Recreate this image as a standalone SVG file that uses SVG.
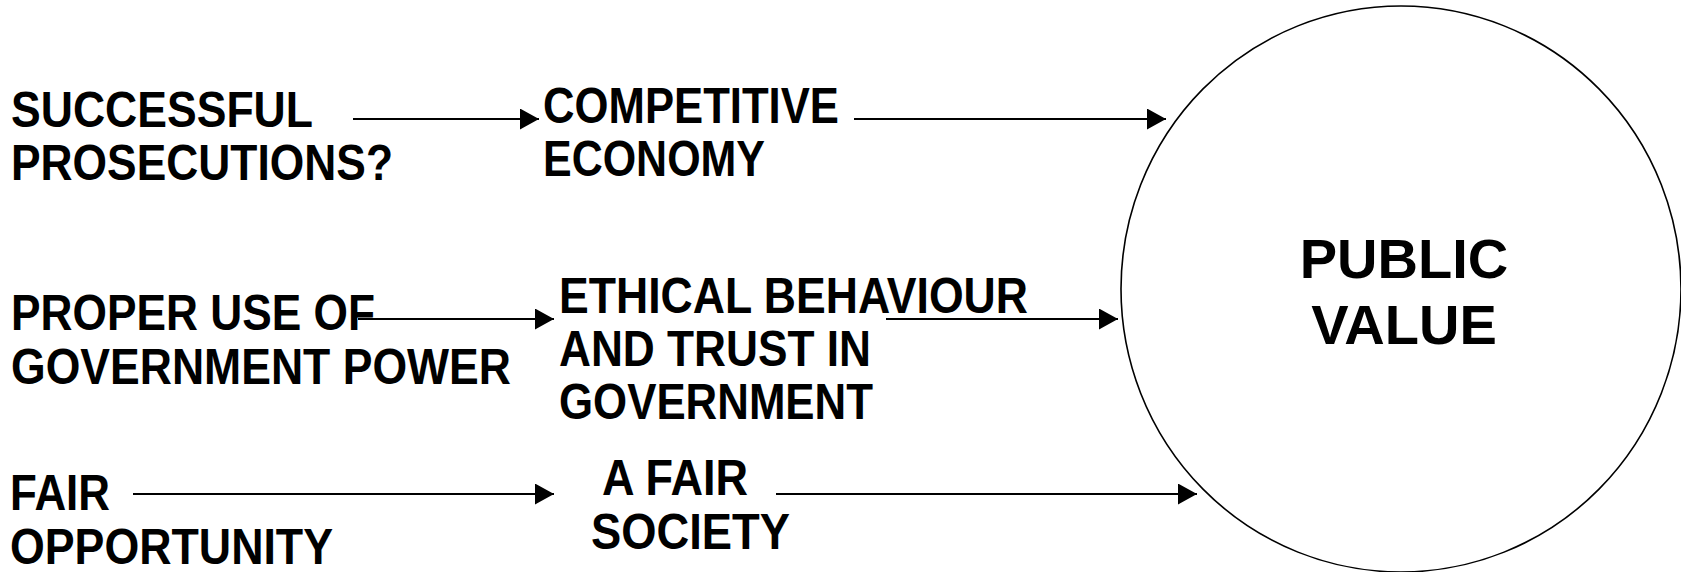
<svg xmlns="http://www.w3.org/2000/svg" width="1681" height="572" viewBox="0 0 1681 572">
<style>
.t{font-family:"Liberation Sans",Arial,sans-serif;font-weight:bold;font-size:50px;fill:#000}
.big{font-family:"Liberation Sans",Arial,sans-serif;font-weight:bold;font-size:56px;fill:#000}
.c{stroke:#000;stroke-width:2;fill:none}
</style>
<defs>
<marker id="ah" markerUnits="userSpaceOnUse" markerWidth="19" markerHeight="21" refX="19" refY="10.5" orient="auto">
<path d="M0,0 L19,10.5 L0,21 Z" fill="#000"/>
</marker>
</defs>
<rect width="1681" height="572" fill="#fff"/>
<g id="public-value">
<ellipse cx="1401" cy="289" rx="280" ry="283" fill="#fff" stroke="#000" stroke-width="1.6"/>
<text class="big" x="1404" y="278" text-anchor="middle">PUBLIC</text>
<text class="big" x="1404" y="344" text-anchor="middle">VALUE</text>
</g>
<g id="successful-prosecutions">
<text class="t" x="11" y="127" textLength="302" lengthAdjust="spacingAndGlyphs">SUCCESSFUL</text>
<text class="t" x="11" y="180" textLength="382" lengthAdjust="spacingAndGlyphs">PROSECUTIONS?</text>
</g>
<g id="competitive-economy">
<text class="t" x="543" y="123" textLength="296" lengthAdjust="spacingAndGlyphs">COMPETITIVE</text>
<text class="t" x="543" y="176" textLength="222" lengthAdjust="spacingAndGlyphs">ECONOMY</text>
</g>
<g id="proper-use">
<text class="t" x="11" y="330" textLength="364" lengthAdjust="spacingAndGlyphs">PROPER USE OF</text>
<text class="t" x="11" y="384" textLength="500" lengthAdjust="spacingAndGlyphs">GOVERNMENT POWER</text>
</g>
<g id="ethical-behaviour">
<text class="t" x="559" y="313" textLength="469" lengthAdjust="spacingAndGlyphs">ETHICAL BEHAVIOUR</text>
<text class="t" x="559" y="366" textLength="312" lengthAdjust="spacingAndGlyphs">AND TRUST IN</text>
<text class="t" x="559" y="419" textLength="314" lengthAdjust="spacingAndGlyphs">GOVERNMENT</text>
</g>
<g id="fair-opportunity">
<text class="t" x="10" y="510" textLength="100" lengthAdjust="spacingAndGlyphs">FAIR</text>
<text class="t" x="10" y="564" textLength="323" lengthAdjust="spacingAndGlyphs">OPPORTUNITY</text>
</g>
<g id="fair-society">
<text class="t" x="602" y="495" textLength="146" lengthAdjust="spacingAndGlyphs">A FAIR</text>
<text class="t" x="591" y="549" textLength="199" lengthAdjust="spacingAndGlyphs">SOCIETY</text>
</g>
<g id="connectors">
<line class="c" x1="353" y1="119" x2="539" y2="119" marker-end="url(#ah)"/>
<line class="c" x1="854" y1="119" x2="1166" y2="119" marker-end="url(#ah)"/>
<line class="c" x1="358" y1="319" x2="554" y2="319" marker-end="url(#ah)"/>
<line class="c" x1="886" y1="319" x2="1118" y2="319" marker-end="url(#ah)"/>
<line class="c" x1="133" y1="494" x2="554" y2="494" marker-end="url(#ah)"/>
<line class="c" x1="776" y1="494" x2="1197" y2="494" marker-end="url(#ah)"/>
</g>
</svg>
